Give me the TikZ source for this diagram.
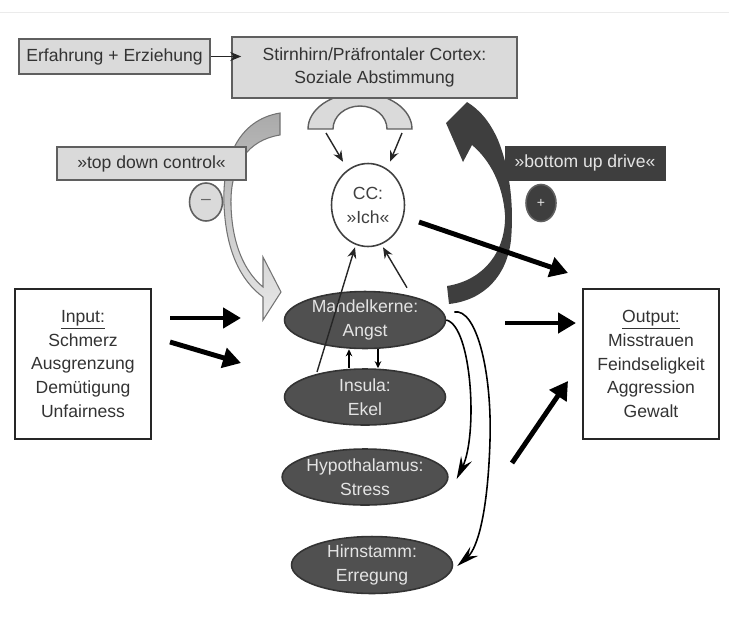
\documentclass[tikz,border=0pt]{standalone}
\usepackage{fontspec}
\setmainfont{Liberation Sans}
\usepackage{xcolor}
\definecolor{lgray}{RGB}{218,218,218}
\definecolor{mgray}{RGB}{170,170,170}
\definecolor{dgray}{RGB}{62,62,62}
\definecolor{egray}{RGB}{80,80,80}
\definecolor{bgray}{RGB}{95,95,95}
\definecolor{tgray}{RGB}{228,228,228}
\usetikzlibrary{arrows.meta,shapes.geometric,calc}

\begin{document}
\begin{tikzpicture}[
  x=0.02cm,y=-0.02cm,
  font=\fontsize{10}{13.6}\selectfont,
  gbox/.style={rectangle,draw=bgray,line width=0.9pt,fill=lgray,text=black!80,align=center,inner sep=0pt},
  dbox/.style={rectangle,draw=dgray,fill=dgray,text=tgray,align=center,inner sep=0pt},
  wbox/.style={rectangle,draw=black!85,line width=1.2pt,fill=white,text=black!80,align=center,inner sep=0pt,minimum width=2.72cm,minimum height=3.0cm},
  brain/.style={ellipse,draw=black!80,line width=0.9pt,fill=egray,text=tgray,align=center,inner sep=0pt,minimum width=3.22cm,minimum height=1.12cm},
  sign/.style={ellipse,draw=bgray,line width=0.9pt,inner sep=0pt,minimum width=0.66cm,minimum height=0.76cm},
  fat/.style={-{Triangle[length=3.6mm,width=4mm]},line width=2.8pt},
  thinarr/.style={-{Stealth[length=2.2mm,width=1.8mm]},line width=0.8pt,black!85},
  smallarr/.style={-{Stealth[length=1.4mm,width=1.3mm]},line width=0.7pt},
  curvarr/.style={-{Stealth[length=4.5mm,width=2.4mm,inset=1.6mm]},line width=0.9pt}
]
  \useasboundingbox (0,0) rectangle (729,619);
  \draw[black!8] (0,12) -- (729,12);

  % big curved arrows and arch (behind the boxes)
  \shade[top color=mgray,bottom color=lgray!60,draw=black!55,line width=0.6pt]
    (280,113) .. controls (238,120) and (222,160) .. (224,205)
    .. controls (226,250) and (240,280) .. (263,297) -- (263,320) -- (281,292) -- (263,257) -- (263,287)
    .. controls (245,272) and (232,245) .. (231,205)
    .. controls (230,165) and (248,140) .. (280,135) -- cycle;
  \fill[dgray] (449,304) .. controls (485,300) and (507,275) .. (511,240)
    .. controls (514,205) and (510,170) .. (498,140)
    .. controls (490,122) and (480,110) .. (467,102) -- (446,123) -- (463,162) -- (472,145)
    .. controls (490,160) and (503,185) .. (505,215)
    .. controls (506,250) and (485,280) .. (447,286) -- cycle;
  \draw[draw=bgray,fill=lgray,line width=0.8pt] (308,129) arc[start angle=180,end angle=360,x radius=52,y radius=36]
    -- (387,129) arc[start angle=0,end angle=-180,x radius=27,y radius=23] -- cycle;

  % boxes
  \node[gbox,minimum width=3.82cm,minimum height=0.7cm] (erf) at (114.5,56.5) {Erfahrung + Erziehung};
  \node[gbox,minimum width=5.7cm,minimum height=1.22cm] (stirn) at (374.5,67.5) {Stirnhirn/Präfrontaler Cortex:\\Soziale Abstimmung};
  \node[gbox,minimum width=3.78cm,minimum height=0.66cm] (topdown) at (151.5,163.5) {»top down control«};
  \node[dbox,minimum width=3.2cm,minimum height=0.68cm] (bottomup) at (585,163) {»bottom up drive«};
  \node[sign,fill=lgray,text=black!60] (minus) at (206,202) {–};
  \node[sign,fill=dgray,text=tgray,minimum width=0.6cm,minimum height=0.74cm] (plus) at (541,203) {\footnotesize +};
  \node[ellipse,draw=black!75,line width=0.9pt,fill=white,text=black!75,align=center,inner sep=0pt,minimum width=1.46cm,minimum height=1.66cm] (cc) at (368,205) {CC:\\»Ich«};

  % Input / Output
  \node[wbox] (input) at (83,364) {\underline{Input:}\\Schmerz\\Ausgrenzung\\Demütigung\\Unfairness};
  \node[wbox] (output) at (651,364) {\underline{Output:}\\Misstrauen\\Feindseligkeit\\Aggression\\Gewalt};

  % brain regions
  \node[brain] (mand) at (365,320) {Mandelkerne:\\Angst};
  \node[brain] (ins) at (365,397) {Insula:\\Ekel};
  \node[brain] (hyp) at (365,477) {Hypothalamus:\\Stress};
  \node[brain] (hirn) at (372,565) {Hirnstamm:\\Erregung};

  % free ends
  \coordinate (archl) at (326,133);
  \coordinate (archr) at (402,133);
  \coordinate (in1a) at (170,318);
  \coordinate (in1b) at (241,318);
  \coordinate (in2a) at (170,342);
  \coordinate (in2b) at (241,363);
  \coordinate (cco) at (419,222);
  \coordinate (outa) at (568,273);
  \coordinate (out1a) at (505,323);
  \coordinate (out1b) at (576,323);
  \coordinate (out3a) at (512,463);
  \coordinate (out3b) at (568,381);

  \draw[thinarr] (erf.east) -- ($(erf.east -| stirn.west)+(10,0)$);
  \draw[thinarr] (archl) -- ($(cc.north)+(-25,-1)$);
  \draw[thinarr] (archr) -- ($(cc.north)+(22,-1)$);
  \draw[thinarr] ($(ins.center)+(-48,-25)$) -- ($(cc.south)+(-13,0)$);
  \draw[thinarr] ($(mand.north)+(42,-3)$) -- ($(cc.south)+(15,0)$);
  \draw[smallarr] ($(ins.north)+(-16,0)$) -- ($(mand.south)+(-16,0)$);
  \draw[smallarr] ($(mand.south)+(13,0)$) -- ($(ins.north)+(13,0)$);
  \draw[curvarr] (mand.east) .. controls (472,326) and (478,435) .. ($(hyp.east)+(8,2)$);
  \draw[curvarr] ($(mand.east)+(8,-8)$) .. controls (476,308) and (492,370) .. (490,440)
    .. controls (488,510) and (478,548) .. ($(hirn.east)+(4,1)$);

  \draw[fat] (in1a) -- (in1b);
  \draw[fat] (in2a) -- (in2b);
  \draw[fat] (cco) -- (outa);
  \draw[fat] (out1a) -- (out1b);
  \draw[fat] (out3a) -- (out3b);
\end{tikzpicture}
\end{document}
